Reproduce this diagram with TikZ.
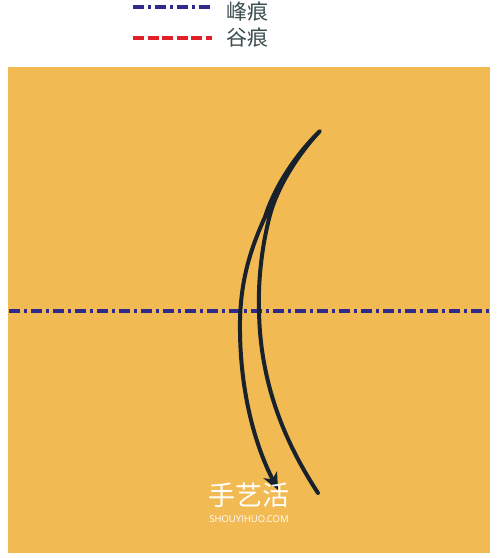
\documentclass[tikz,border=0pt]{standalone}
\usepackage{fontspec}
\usepackage{tikz}
\usetikzlibrary{arrows.meta}
\newfontfamily\cjk{Noto Sans CJK SC}
\newfontfamily\wmfont{Open Sans}
\definecolor{paper}{RGB}{242,186,82}
\definecolor{mtnblue}{RGB}{48,42,140}
\definecolor{vlyred}{RGB}{226,30,42}
\definecolor{lblgray}{RGB}{60,78,78}
\definecolor{ink}{RGB}{24,34,44}
\tikzstyle{mtn}=[draw=mtnblue, line width=3.3pt, dash pattern=on 11pt off 4pt on 2.5pt off 4.5pt]
\tikzstyle{vly}=[draw=vlyred, line width=3.3pt, dash pattern=on 11pt off 3.5pt]
\tikzstyle{lbl}=[anchor=west, inner sep=0pt, text=lblgray, font=\cjk\fontsize{21}{21}\selectfont]
\tikzstyle{foldarrow}=[draw=ink, line width=4pt, -{Stealth[length=17pt,width=15pt,inset=5pt]}]
\tikzstyle{wm}=[inner sep=0pt, text=white]

\begin{document}
\begin{tikzpicture}[x=1pt,y=-1pt]
      \useasboundingbox (0,0) rectangle (500,558);
      \fill [white] (0,0) rectangle (500,558);
      \fill [paper] (8,67) rectangle (490,553);
      % legend
      \coordinate (m1) at (133,7);
      \coordinate (m2) at (212,7);
      \coordinate (v1) at (133,38);
      \coordinate (v2) at (212,38);
      \node [lbl] (mtnlbl) at (226,12) {峰痕};
      \node [lbl] (vlylbl) at (226,38) {谷痕};
      \path [mtn] (m1) -- (m2);
      \path [vly] (v1) -- (v2);
      % fold line
      \coordinate (fl) at (9,311);
      \coordinate (fr) at (490,311);
      \path [mtn] (fl) -- (fr);
      % fold and unfold
      \coordinate (start) at (318,493);
      \coordinate (top) at (320,131);
      \coordinate (tip) at (278,490);
      \path [foldarrow, line cap=round, line join=round]
      (start) .. controls (290,450) and (260,390) .. (259,310)
              .. controls (258,280) and (262,245) .. (270,215)
              .. controls (278,185) and (300,152) .. (top)
              .. controls (298,152) and (275,185) .. (265,217)
              .. controls (250,250) and (241,280) .. (240,320)
              .. controls (239,390) and (255,445) .. (tip);
      % watermark
      \node [wm, font=\cjk\fontsize{27}{27}\selectfont] (wmcn) at (249,495) {手艺活};
      \node [wm, font=\wmfont\fontsize{9.5}{9.5}\selectfont] (wmen) at (249,519) {SHOUYIHUO.COM};
    \end{tikzpicture}
\end{document}
